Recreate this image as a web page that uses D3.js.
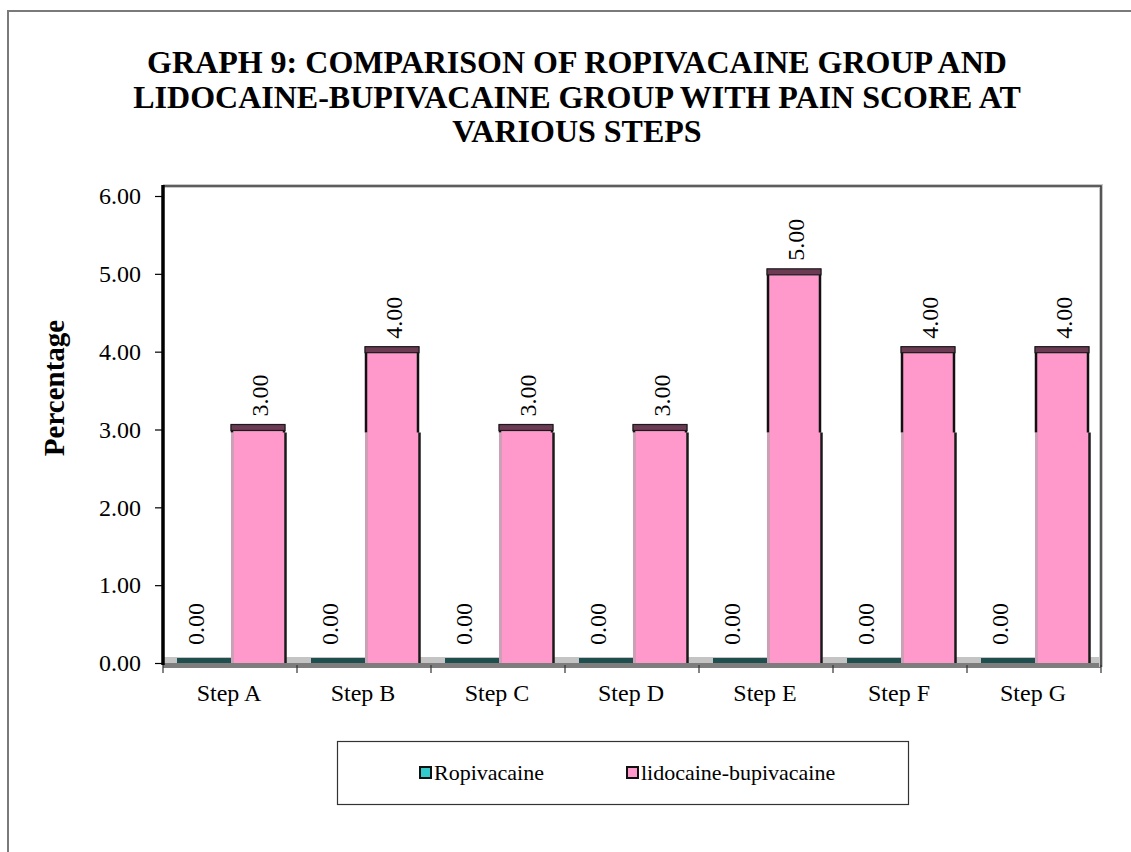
<!DOCTYPE html>
<html>
<head>
<meta charset="utf-8">
<script src="https://cdn.jsdelivr.net/npm/d3@7"></script>
<style>
  html, body { margin: 0; padding: 0; background: #fff; }
  svg { display: block; }
  svg text { font-family: "Liberation Serif", "Times New Roman", serif !important; fill: #000; }
</style>
</head>
<body>
<script>
// Pain score at each procedural step, two anaesthetic groups
const categories = ["Step A", "Step B", "Step C", "Step D", "Step E", "Step F", "Step G"];
const ropivacaine = [0, 0, 0, 0, 0, 0, 0];
const lidocaineBupivacaine = [3, 4, 3, 3, 5, 4, 4];
const seriesNames = ["Ropivacaine", "lidocaine-bupivacaine"];
const yTicks = [0, 1, 2, 3, 4, 5, 6];
const titleLines = [
  "GRAPH 9: COMPARISON OF ROPIVACAINE GROUP AND",
  "LIDOCAINE-BUPIVACAINE GROUP WITH PAIN SCORE AT",
  "VARIOUS STEPS"
];
const yAxisTitle = "Percentage";

const W = 1131, H = 852;
const SERIF = "'Liberation Serif', 'Times New Roman', serif";
const plot = { left: 163, right: 1101, top: 186 };
const colors = { Ropivacaine: "#33CCCC", "lidocaine-bupivacaine": "#FF99CC" };
const topFace = { Ropivacaine: "#1f4e4e", "lidocaine-bupivacaine": "#6b3a53" };

const svg = d3.select("body").append("svg").attr("width", W).attr("height", H)
  .style("font-family", SERIF);

// outer chart frame (top and left edges visible)
svg.append("path")
  .attr("d", `M8,${H} L8,11 L${W},11`)
  .attr("fill", "none").attr("stroke", "#7a7a7a").attr("stroke-width", 2);

// title
const title = svg.append("text")
  .attr("text-anchor", "middle")
  .attr("font-size", 32).attr("font-weight", "bold");
titleLines.forEach((t, i) => {
  title.append("tspan").attr("x", 577).attr("y", 73 + i * 34.5).text(t);
});

const y = d3.scaleLinear().domain([0, 6]).range([663, 196]);
const x0 = d3.scaleBand().domain(categories).range([plot.left, plot.right]).padding(0);
const x1 = d3.scaleBand().domain(seriesNames).range([14, 122]);

const rows = categories.map((c, i) => ({
  cat: c,
  values: [
    { key: seriesNames[0], value: ropivacaine[i] },
    { key: seriesNames[1], value: lidocaineBupivacaine[i] }
  ]
}));

// floor slab
svg.append("rect")
  .attr("x", plot.left).attr("y", y(0) - 6)
  .attr("width", plot.right - plot.left).attr("height", 6)
  .attr("fill", "#c4c4c4");
svg.append("rect")
  .attr("x", plot.left).attr("y", y(0))
  .attr("width", plot.right - plot.left).attr("height", 5)
  .attr("fill", "#7d7d7d");

// plot area frame: top and right edges
svg.append("path")
  .attr("d", `M${plot.left},${plot.top} L${plot.right},${plot.top} L${plot.right},${y(0) + 4}`)
  .attr("fill", "none").attr("stroke", "#c8c8c8").attr("stroke-width", 4);
svg.append("path")
  .attr("d", `M${plot.left},${plot.top} L${plot.right},${plot.top} L${plot.right},${y(0) + 4}`)
  .attr("fill", "none").attr("stroke", "#3a3a3a").attr("stroke-width", 1.6);

const groups = svg.selectAll("g.step").data(rows).join("g")
  .attr("class", "step")
  .attr("transform", d => `translate(${x0(d.cat)},0)`);

const bw = x1.bandwidth();

groups.each(function (d) {
  const g = d3.select(this);
  d.values.forEach(v => {
    const bx = x1(v.key);
    const top = y(v.value);
    if (v.value > 0) {
      // front face
      g.append("rect")
        .attr("x", bx).attr("y", top)
        .attr("width", bw).attr("height", y(0) - top)
        .attr("fill", colors[v.key]);
      // left edge: dark above the 3.00 level, soft grey below it
      const split = Math.max(top, y(3));
      g.append("line")
        .attr("x1", bx + 1).attr("x2", bx + 1)
        .attr("y1", top - 5).attr("y2", split + 3)
        .attr("stroke", "#111").attr("stroke-width", 2.5);
      g.append("line")
        .attr("x1", bx + 1.5).attr("x2", bx + 1.5)
        .attr("y1", split + 3).attr("y2", y(0))
        .attr("stroke", "#b9a3ad").attr("stroke-width", 3).attr("opacity", 0.7);
      // right edge
      g.append("line")
        .attr("x1", bx + bw - 1).attr("x2", bx + bw - 1)
        .attr("y1", top - 5).attr("y2", split + 3)
        .attr("stroke", "#111").attr("stroke-width", 2.5);
      g.append("line")
        .attr("x1", bx + bw + 0.5).attr("x2", bx + bw + 0.5)
        .attr("y1", split + 3).attr("y2", y(0))
        .attr("stroke", "#1a1a1a").attr("stroke-width", 2.5);
      // top face
      g.append("rect")
        .attr("x", bx).attr("y", top - 5)
        .attr("width", bw).attr("height", 6)
        .attr("fill", topFace[v.key])
        .attr("stroke", "#1a1a1a").attr("stroke-width", 1.2);
    } else {
      // zero-height column: only the top face shows
      g.append("rect")
        .attr("x", bx).attr("y", top - 5)
        .attr("width", bw).attr("height", 5)
        .attr("fill", topFace[v.key]);
    }
  });
});

// value labels, rotated
groups.each(function (d) {
  const g = d3.select(this);
  d.values.forEach(v => {
    const cx = x1(v.key) + bw / 2 + (v.value > 0 ? 2 : -8);
    const by = v.value > 0 ? y(v.value) - 13 : y(0) - 18;
    g.append("text")
      .attr("transform", `translate(${cx + 8},${by}) rotate(-90)`)
      .attr("font-size", 24)
      .style("font-family", SERIF)
      .text(d3.format(".2f")(v.value));
  });
});

// left value axis
svg.append("line")
  .attr("x1", plot.left).attr("x2", plot.left)
  .attr("y1", plot.top - 1).attr("y2", y(0) + 2)
  .attr("stroke", "#000").attr("stroke-width", 3.5);

const yAxis = svg.append("g").attr("transform", `translate(${plot.left},0)`)
  .call(d3.axisLeft(y).tickValues(yTicks).tickFormat(d3.format(".2f")).tickSize(8).tickPadding(14));
yAxis.attr("font-family", null).attr("font-size", null);
yAxis.select(".domain").remove();
yAxis.selectAll(".tick line").attr("stroke", "#000").attr("stroke-width", 1.2);
yAxis.selectAll(".tick text")
  .style("font-family", SERIF)
  .attr("font-size", 24).attr("fill", "#000");

// category ticks along the floor
const bounds = categories.map(c => x0(c)).concat([x0(categories[categories.length - 1]) + x0.step()]);
svg.selectAll("line.ctick").data(bounds).join("line")
  .attr("class", "ctick")
  .attr("x1", d => d).attr("x2", d => d)
  .attr("y1", y(0) + 2).attr("y2", y(0) + 10)
  .attr("stroke", "#333").attr("stroke-width", 1.2);

svg.selectAll("text.catlabel").data(categories).join("text")
  .attr("class", "catlabel")
  .attr("x", d => x0(d) + x0.bandwidth() / 2 - 1)
  .attr("y", 701)
  .attr("text-anchor", "middle")
  .attr("font-size", 24)
  .style("font-family", SERIF)
  .text(d => d);

// axis title
svg.append("text")
  .attr("transform", "translate(64,388) rotate(-90)")
  .attr("text-anchor", "middle")
  .attr("font-size", 29).attr("font-weight", "bold")
  .style("font-family", SERIF)
  .text(yAxisTitle);

// legend
const legend = svg.append("g");
legend.append("rect")
  .attr("x", 337.5).attr("y", 741.5).attr("width", 571).attr("height", 63)
  .attr("fill", "#fff").attr("stroke", "#333").attr("stroke-width", 1.2);
const legendX = d3.scaleOrdinal().domain(seriesNames).range([420, 627]);
seriesNames.forEach(s => {
  legend.append("rect")
    .attr("x", legendX(s)).attr("y", 767).attr("width", 11).attr("height", 11)
    .attr("fill", colors[s]).attr("stroke", "#111").attr("stroke-width", 2);
  legend.append("text")
    .attr("x", legendX(s) + 14).attr("y", 780)
    .attr("font-size", 22)
    .style("font-family", SERIF)
    .text(s);
});
</script>
</body>
</html>
